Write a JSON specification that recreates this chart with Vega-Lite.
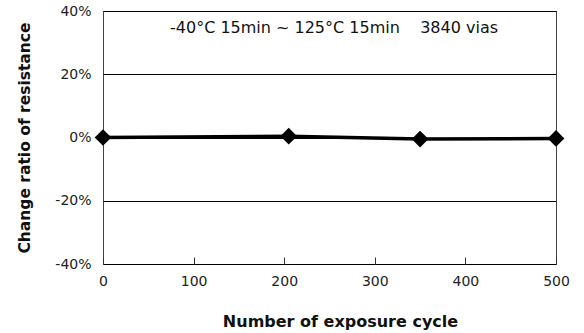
{
  "$schema": "https://vega.github.io/schema/vega-lite/v6.json",
  "autosize": "none",
  "width": 453,
  "height": 253,
  "padding": {"left": 103, "top": 11, "right": 28, "bottom": 69},
  "background": "white",
  "config": {
    "view": {"stroke": "#444", "strokeWidth": 1},
    "font": "DejaVu Sans"
  },
  "datasets": {
    "pts": [
      {"cycle": 0, "ratio": 0},
      {"cycle": 205, "ratio": 0.4},
      {"cycle": 350, "ratio": -0.5},
      {"cycle": 500, "ratio": -0.3}
    ],
    "note": [
      {"cycle": 255, "ratio": 34.5, "label": "-40°C 15min ~ 125°C 15min\u00a0\u00a0\u00a0\u00a03840 vias"}
    ]
  },
  "layer": [
    {
      "data": {"name": "pts"},
      "mark": {"type": "line", "color": "black", "strokeWidth": 3.5, "point": {"shape": "diamond", "size": 280, "filled": true, "color": "black", "opacity": 1}},
      "encoding": {
        "x": {
          "field": "cycle", "type": "quantitative",
          "scale": {"domain": [0, 500], "nice": false},
          "axis": {
            "values": [0, 100, 200, 300, 400, 500],
            "title": "Number of exposure cycle",
            "titleFont": "DejaVu Sans", "titleFontSize": 16, "titleFontWeight": "bold", "titleColor": "#111",
            "titlePadding": 25, "titleX": 237,
            "labelFont": "DejaVu Sans", "labelFontSize": 14, "labelColor": "#222", "labelPadding": 17,
            "grid": false, "domain": false,
            "tickSize": -7, "tickColor": "#333",
            "labelFlush": false
          }
        },
        "y": {
          "field": "ratio", "type": "quantitative",
          "scale": {"domain": [-40, 40], "nice": false},
          "axis": {
            "values": [-40, -20, 0, 20, 40],
            "labelExpr": "datum.value + '%'",
            "title": "Change ratio of resistance",
            "titleFont": "DejaVu Sans", "titleFontSize": 15.5, "titleFontWeight": "bold", "titleColor": "#111",
            "titlePadding": 22,
            "labelFont": "DejaVu Sans", "labelFontSize": 14, "labelColor": "#222", "labelPadding": 12,
            "grid": true, "gridColor": "black", "gridWidth": 1, "gridOpacity": 1,
            "domain": false, "ticks": false
          }
        }
      }
    },
    {
      "data": {"name": "note"},
      "mark": {"type": "text", "fontSize": 16, "color": "#111", "font": "DejaVu Sans"},
      "encoding": {
        "x": {"field": "cycle", "type": "quantitative"},
        "y": {"field": "ratio", "type": "quantitative"},
        "text": {"field": "label"}
      }
    }
  ]
}
